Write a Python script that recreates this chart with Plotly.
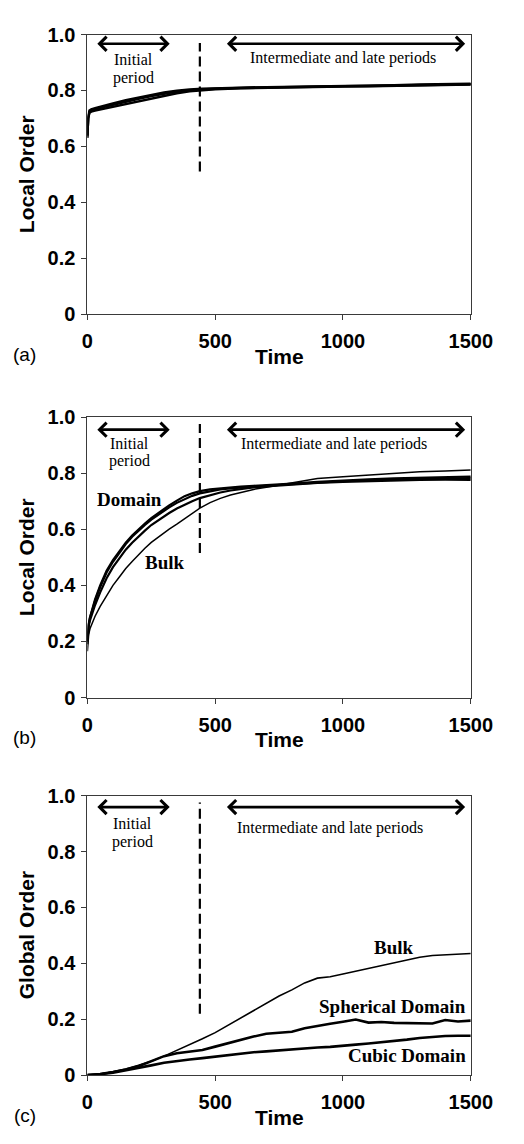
import plotly.graph_objects as go

# ---------------- data ----------------
# (a) local order, several runs that nearly coincide
t_a = [0, 3, 8, 15, 30, 60, 100, 150, 200, 250, 300, 350, 400, 450, 500,
       600, 700, 800, 900, 1000, 1100, 1200, 1300, 1400, 1500]
local_a1 = [0.635, 0.700, 0.724, 0.728, 0.733, 0.740, 0.749, 0.760, 0.770, 0.780,
            0.789, 0.796, 0.801, 0.804, 0.806, 0.809, 0.811, 0.812, 0.814, 0.815,
            0.816, 0.818, 0.819, 0.821, 0.822]
local_a2 = [0.640, 0.700, 0.720, 0.724, 0.728, 0.734, 0.742, 0.752, 0.762, 0.772,
            0.782, 0.790, 0.797, 0.801, 0.804, 0.808, 0.810, 0.811, 0.813, 0.814,
            0.815, 0.817, 0.818, 0.820, 0.821]
local_a3 = [0.630, 0.705, 0.728, 0.732, 0.737, 0.745, 0.754, 0.765, 0.775, 0.785,
            0.793, 0.799, 0.804, 0.806, 0.808, 0.810, 0.812, 0.813, 0.815, 0.816,
            0.818, 0.819, 0.821, 0.822, 0.824]

# (b) local order, domain runs and bulk
t_b = [0, 2, 5, 10, 20, 30, 50, 75, 100, 125, 150, 175, 200, 225, 250, 285, 320,
       350, 380, 410, 440, 480, 520, 560, 600, 650, 700, 800, 900, 1000, 1100,
       1200, 1300, 1400, 1500]
domain_b1 = [0.190, 0.230, 0.260, 0.285, 0.320, 0.350, 0.400, 0.452, 0.490, 0.522,
             0.552, 0.578, 0.600, 0.620, 0.640, 0.663, 0.685, 0.702, 0.718, 0.728,
             0.736, 0.742, 0.746, 0.749, 0.752, 0.755, 0.757, 0.763, 0.769, 0.774,
             0.778, 0.781, 0.784, 0.786, 0.788]
domain_b2 = [0.200, 0.235, 0.262, 0.284, 0.316, 0.345, 0.394, 0.446, 0.484, 0.517,
             0.547, 0.573, 0.595, 0.615, 0.634, 0.657, 0.678, 0.694, 0.708, 0.719,
             0.728, 0.736, 0.742, 0.746, 0.749, 0.752, 0.755, 0.761, 0.767, 0.771,
             0.774, 0.777, 0.779, 0.781, 0.782]
domain_b3 = [0.200, 0.230, 0.255, 0.275, 0.305, 0.330, 0.375, 0.425, 0.465, 0.498,
             0.527, 0.552, 0.575, 0.595, 0.615, 0.638, 0.658, 0.674, 0.688, 0.700,
             0.711, 0.722, 0.731, 0.738, 0.744, 0.749, 0.753, 0.760, 0.765, 0.769,
             0.772, 0.774, 0.776, 0.777, 0.776]
bulk_b = [0.165, 0.200, 0.225, 0.245, 0.270, 0.290, 0.325, 0.365, 0.400, 0.430,
          0.460, 0.485, 0.510, 0.532, 0.553, 0.578, 0.600, 0.618, 0.636, 0.655,
          0.675, 0.695, 0.710, 0.722, 0.732, 0.742, 0.750, 0.765, 0.781, 0.787,
          0.793, 0.800, 0.805, 0.808, 0.811]

# (c) global order
t_c = [0, 50, 100, 150, 200, 250, 300, 350, 400, 450, 500, 550, 600, 650, 700,
       750, 800, 850, 900, 950, 1000, 1050, 1100, 1150, 1200, 1250, 1300, 1350,
       1400, 1450, 1500]
bulk_c = [0.000, 0.004, 0.012, 0.022, 0.035, 0.050, 0.068, 0.088, 0.108, 0.130,
          0.152, 0.178, 0.205, 0.232, 0.258, 0.283, 0.305, 0.330, 0.347, 0.352,
          0.362, 0.372, 0.382, 0.392, 0.403, 0.413, 0.422, 0.428, 0.431, 0.433,
          0.435]
spherical_c = [0.000, 0.004, 0.011, 0.020, 0.032, 0.050, 0.068, 0.078, 0.084, 0.090,
               0.102, 0.114, 0.128, 0.138, 0.148, 0.152, 0.155, 0.168, 0.177, 0.184,
               0.191, 0.199, 0.188, 0.190, 0.187, 0.186, 0.184, 0.185, 0.197, 0.192,
               0.195]
cubic_c = [0.000, 0.003, 0.009, 0.017, 0.026, 0.035, 0.044, 0.051, 0.056, 0.061,
           0.066, 0.071, 0.078, 0.082, 0.085, 0.089, 0.093, 0.096, 0.099, 0.101,
           0.106, 0.109, 0.113, 0.117, 0.122, 0.127, 0.133, 0.137, 0.140, 0.141,
           0.141]

x_ticks = [0, 500, 1000, 1500]
x_tick_text = ["0", "500", "1000", "1500"]
y_ticks = [0, 0.2, 0.4, 0.6, 0.8, 1.0]
y_tick_text = ["0", "0.2", "0.4", "0.6", "0.8", "1.0"]

panel_letters = ["(a)", "(b)", "(c)"]
y_titles = ["Local Order", "Local Order", "Global Order"]
divider_time = 440

# ---------------- layout geometry ----------------
W, H = 524, 1144
X0, X1 = 86, 491                       # plot area left / right (px)
panels_px = [(24, 309), (414, 700), (800, 1085)]   # plot area top / bottom (px)


def py(v):
    return 1 - v / H


SANS = "Liberation Sans, Arial, sans-serif"
SERIF = "Liberation Serif, Times New Roman, serif"
BLACK = "#000000"
FRAME = "#3a3a3a"

fig = go.Figure()

series = [
    [(t_a, local_a1, 2.4), (t_a, local_a2, 2.4), (t_a, local_a3, 2.4)],
    [(t_b, domain_b1, 2.2), (t_b, domain_b2, 2.2), (t_b, domain_b3, 2.2),
     (t_b, bulk_b, 1.5)],
    [(t_c, bulk_c, 1.6), (t_c, spherical_c, 2.6), (t_c, cubic_c, 2.6)],
]

for i, group in enumerate(series):
    suffix = "" if i == 0 else str(i + 1)
    for tx, vals, w in group:
        fig.add_trace(go.Scatter(
            x=tx, y=vals, mode="lines", xaxis="x" + suffix, yaxis="y" + suffix,
            line=dict(color=BLACK, width=w), showlegend=False, hoverinfo="skip"))

axis_common = dict(
    showline=True, mirror=True, linecolor=FRAME, linewidth=1,
    ticks="outside", ticklen=5, tickcolor=FRAME, tickwidth=1,
    showgrid=False, zeroline=False,
    tickfont=dict(family=SANS, size=20, color=BLACK, weight="bold"),
)

layout = dict(
    width=W, height=H, autosize=False,
    margin=dict(l=0, r=0, t=0, b=0),
    paper_bgcolor="white", plot_bgcolor="white",
    showlegend=False,
)

shapes = []
annotations = []

# per-panel dash extents and text positions
dash_ranges = [(0.51, 0.97), (0.515, 0.975), (0.22, 0.975)]
arrow_y = [0.967, 0.955, 0.959]
initial_text_y = [(0.91, 0.845), (0.905, 0.845), (0.90, 0.835)]
initial_text_x = [181, 163, 175]
late_text = [(1000, 0.915), (966, 0.905), (948, 0.885)]

for i, (top, bot) in enumerate(panels_px):
    suffix = "" if i == 0 else str(i + 1)
    xa = "xaxis" + suffix
    ya = "yaxis" + suffix
    xr = "x" + suffix
    yr = "y" + suffix
    layout[xa] = dict(axis_common, domain=[X0 / W, X1 / W], range=[0, 1500],
                      tickvals=x_ticks, ticktext=x_tick_text, anchor=yr,
                      ticklabelstandoff=4)
    layout[ya] = dict(axis_common, domain=[py(bot), py(top)], range=[0, 1.0],
                      tickvals=y_ticks, ticktext=y_tick_text, anchor=xr,
                      ticklabelstandoff=2)

    # vertical divider between periods
    y_lo, y_hi = dash_ranges[i]
    shapes.append(dict(type="line", xref=xr, yref=yr, x0=divider_time, x1=divider_time,
                       y0=y_lo, y1=y_hi,
                       line=dict(color=BLACK, width=2.2, dash="10px,5px")))

    # double-headed period arrows
    for (xs, xe) in [(33, 322), (540, 1478)]:
        annotations.append(dict(
            xref=xr, yref=yr, axref=xr, ayref=yr,
            x=xe, y=arrow_y[i], ax=xs, ay=arrow_y[i], text="",
            showarrow=True, arrowhead=4, startarrowhead=4, arrowside="end+start",
            arrowsize=1.05, startarrowsize=1.05, arrowwidth=2.6, arrowcolor=BLACK))

    iy1, iy2 = initial_text_y[i]
    for txt, yy in [("Initial", iy1), ("period", iy2)]:
        annotations.append(dict(xref=xr, yref=yr, x=initial_text_x[i], y=yy, text=txt,
                                showarrow=False, xanchor="center", yanchor="middle",
                                font=dict(family=SERIF, size=16, color=BLACK)))
    lx, ly = late_text[i]
    annotations.append(dict(xref=xr, yref=yr, x=lx, y=ly,
                            text="Intermediate and late periods",
                            showarrow=False, xanchor="center", yanchor="middle",
                            font=dict(family=SERIF, size=16, color=BLACK)))

    # axis titles and panel letter
    annotations.append(dict(xref="paper", yref="paper", x=(X0 + X1) / 2 / W,
                            y=py(bot + 43), text="Time", showarrow=False,
                            xanchor="center", yanchor="middle",
                            font=dict(family=SANS, size=21, color=BLACK, weight="bold")))
    annotations.append(dict(xref="paper", yref="paper", x=21 / W,
                            y=py((top + bot) / 2), text=y_titles[i], showarrow=False,
                            textangle=-90, xanchor="center", yanchor="middle",
                            font=dict(family=SANS, size=21, color=BLACK, weight="bold")))
    annotations.append(dict(xref="paper", yref="paper", x=20 / W,
                            y=py(bot + 41), text=panel_letters[i], showarrow=False,
                            xanchor="center", yanchor="middle",
                            font=dict(family=SANS, size=19, color=BLACK)))

# curve labels
label_font = dict(family=SERIF, size=19, color=BLACK, weight="bold")
annotations += [
    dict(xref="x2", yref="y2", x=163, y=0.706, text="Domain", showarrow=False,
         xanchor="center", yanchor="middle", font=label_font),
    dict(xref="x2", yref="y2", x=302, y=0.48, text="Bulk", showarrow=False,
         xanchor="center", yanchor="middle", font=label_font),
    dict(xref="x3", yref="y3", x=1285, y=0.456, text="Bulk", showarrow=False,
         xanchor="right", yanchor="middle", font=label_font),
    dict(xref="x3", yref="y3", x=1490, y=0.20, text="Spherical Domain", showarrow=False,
         xanchor="right", yanchor="bottom", font=label_font),
    dict(xref="x3", yref="y3", x=1490, y=0.07, text="Cubic Domain", showarrow=False,
         xanchor="right", yanchor="middle", font=label_font),
]

layout["shapes"] = shapes
layout["annotations"] = annotations
fig.update_layout(**layout)

fig.write_html("out.html")
